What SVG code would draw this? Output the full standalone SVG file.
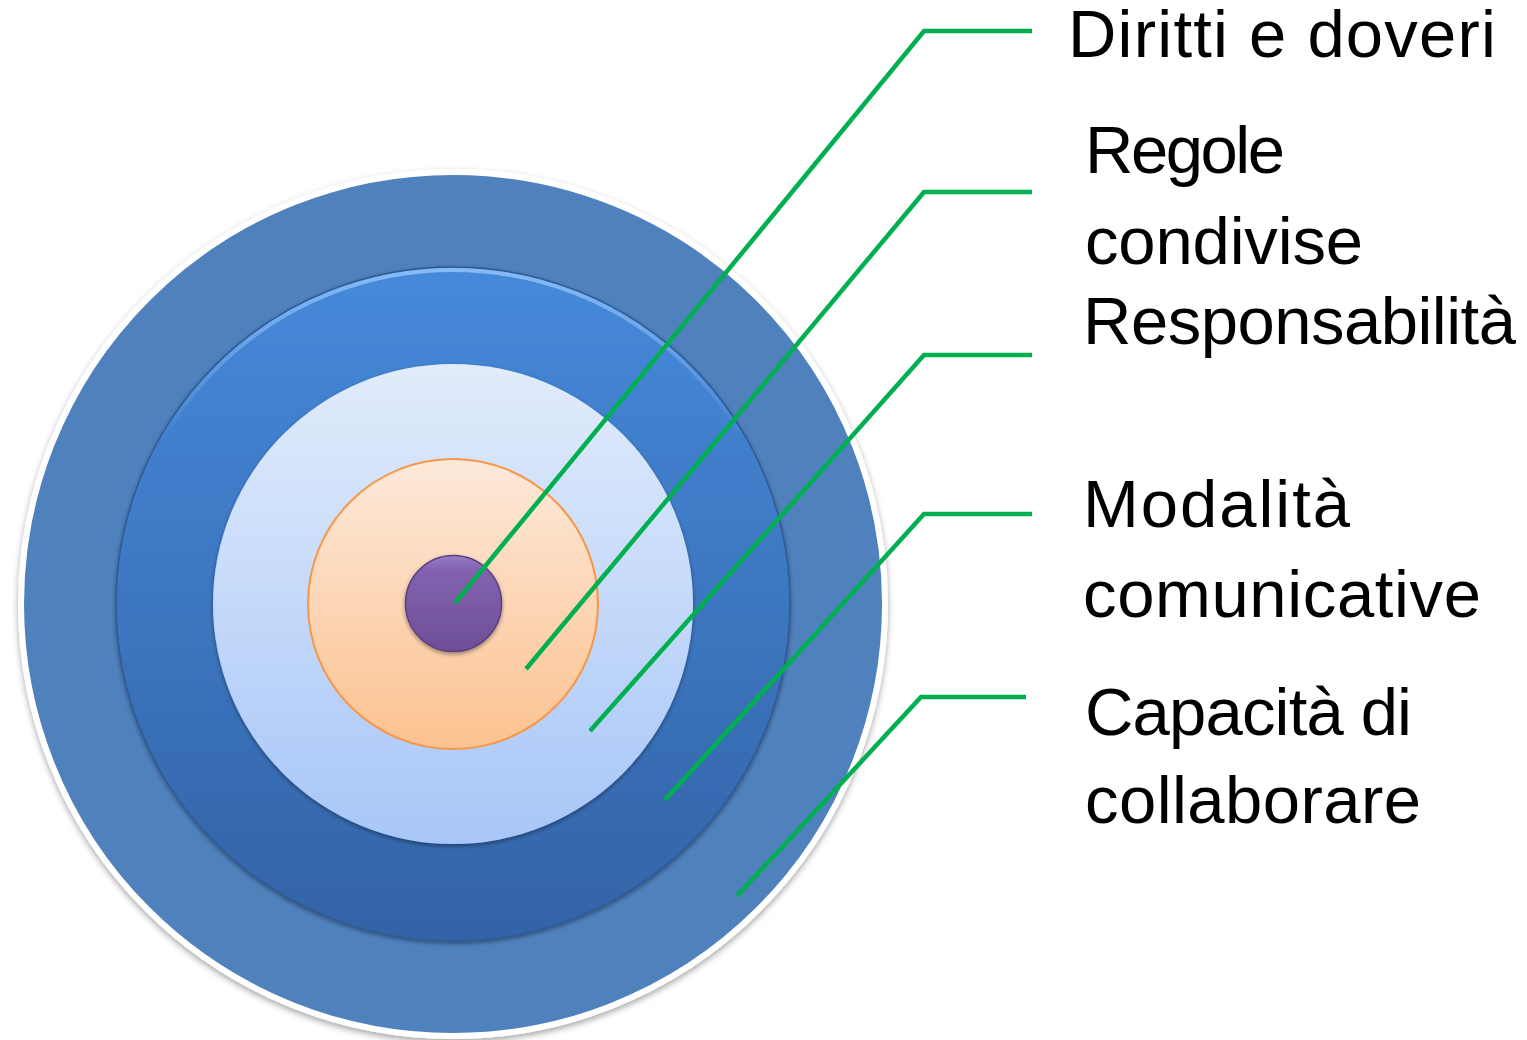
<svg xmlns="http://www.w3.org/2000/svg" width="1527" height="1040" viewBox="0 0 1527 1040">
<style>
.lbl{font-family:"Liberation Sans",Arial,sans-serif;font-size:67px;fill:#000}
.conn{fill:none;stroke:#00B050;stroke-width:4.5;stroke-linejoin:miter}
</style>
<defs>
<linearGradient id="g2" x1="0" y1="0" x2="0" y2="1">
<stop offset="0" stop-color="#4689DA"/>
<stop offset="1" stop-color="#3363A6"/>
</linearGradient>
<linearGradient id="hl" x1="0" y1="0" x2="0" y2="1">
<stop offset="0" stop-color="#8CC0FA" stop-opacity="0.9"/>
<stop offset="0.25" stop-color="#8CC0FA" stop-opacity="0"/>
</linearGradient>
<linearGradient id="g3" x1="0" y1="0" x2="0" y2="1">
<stop offset="0" stop-color="#E1ECFB"/>
<stop offset="1" stop-color="#A8C6F8"/>
</linearGradient>
<linearGradient id="g4" x1="0" y1="0" x2="0" y2="1">
<stop offset="0" stop-color="#FDE9DA"/>
<stop offset="1" stop-color="#FCC290"/>
</linearGradient>
<linearGradient id="g5" x1="0" y1="0" x2="0" y2="1">
<stop offset="0" stop-color="#9A7CC6"/>
<stop offset="0.15" stop-color="#8362B0"/>
<stop offset="1" stop-color="#6E4E96"/>
</linearGradient>
<filter id="sh" x="-10%" y="-10%" width="120%" height="120%">
<feDropShadow dx="0" dy="3" stdDeviation="3" flood-color="#000" flood-opacity="0.35"/>
</filter>
<filter id="sh2" x="-10%" y="-10%" width="120%" height="120%">
<feDropShadow dx="0" dy="2" stdDeviation="2" flood-color="#000" flood-opacity="0.4"/>
</filter>
</defs>
<rect width="1527" height="1040" fill="#fff"/>
<g id="ring-outer">
<circle cx="453" cy="604" r="432" fill="#4F81BD" stroke="#fff" stroke-width="6" filter="url(#sh)"/>
</g>
<g id="ring-2">
<circle cx="453" cy="604" r="337" fill="url(#g2)" stroke="#2F5A94" stroke-width="1.5" filter="url(#sh2)"/>
<circle cx="453" cy="604" r="334" fill="none" stroke="url(#hl)" stroke-width="4"/>
</g>
<g id="ring-3">
<circle cx="453" cy="604" r="240" fill="url(#g3)" filter="url(#sh2)"/>
</g>
<g id="ring-4">
<circle cx="453" cy="604" r="145" fill="url(#g4)" stroke="#F79646" stroke-width="2"/>
</g>
<g id="core">
<circle cx="453.5" cy="603.5" r="48" fill="url(#g5)" stroke="#5A3F80" stroke-width="1.5" filter="url(#sh2)"/>
</g>
<g id="connectors">
<polyline class="conn" points="455,603 924,31 1032,31"/>
<polyline class="conn" points="526,669 924,192 1032,192"/>
<polyline class="conn" points="590,731 924,355 1032,355"/>
<polyline class="conn" points="665,800 924,514 1032,514"/>
<polyline class="conn" points="737,896 921,697 1026,697"/>
</g>
<g id="label-1"><text class="lbl" x="1068" y="57" textLength="428" lengthAdjust="spacing">Diritti e doveri</text></g>
<g id="label-2"><text class="lbl" x="1085" y="173" textLength="200" lengthAdjust="spacing">Regole</text><text class="lbl" x="1085" y="264" textLength="278" lengthAdjust="spacing">condivise</text></g>
<g id="label-3"><text class="lbl" x="1083" y="344" textLength="433" lengthAdjust="spacing">Responsabilità</text></g>
<g id="label-4"><text class="lbl" x="1083" y="527" textLength="267" lengthAdjust="spacing">Modalità</text><text class="lbl" x="1083" y="617" textLength="398" lengthAdjust="spacing">comunicative</text></g>
<g id="label-5"><text class="lbl" x="1085" y="735" textLength="327" lengthAdjust="spacing">Capacità di</text><text class="lbl" x="1085" y="823" textLength="336" lengthAdjust="spacing">collaborare</text></g>
</svg>
